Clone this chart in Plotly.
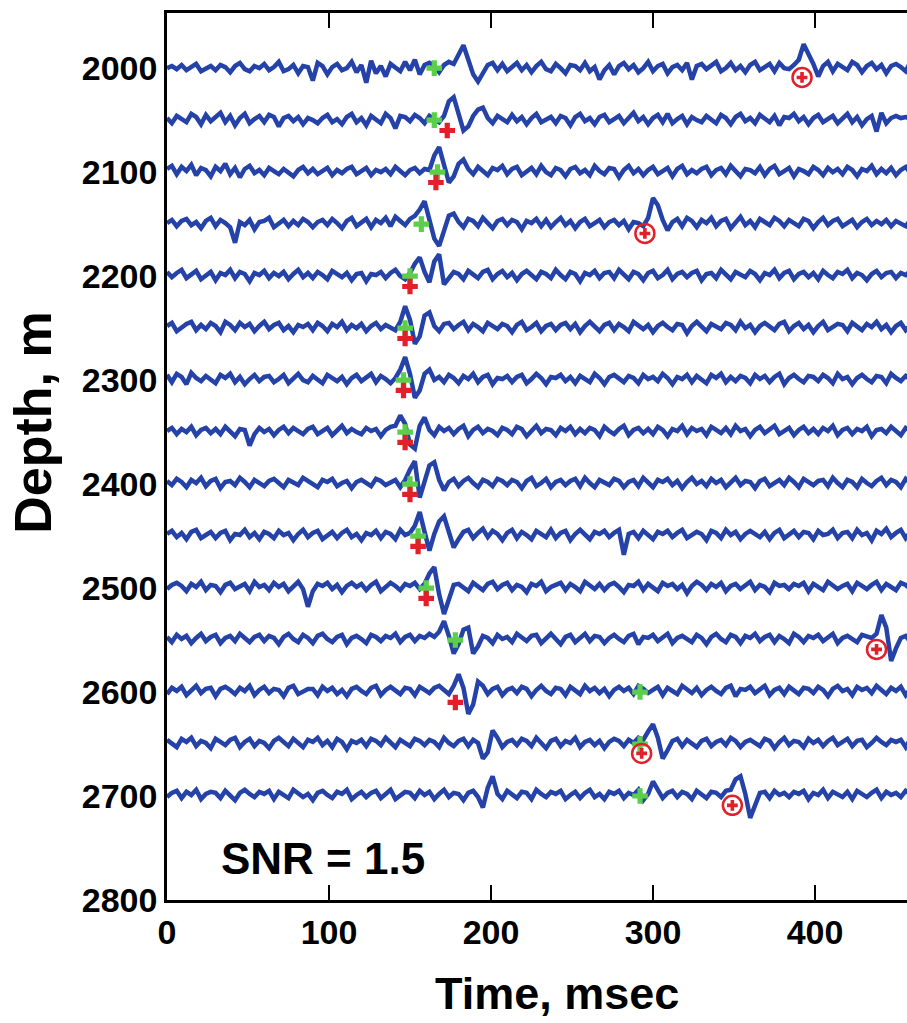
import plotly.graph_objects as go

# ---------------- data ----------------
SAMPLE_MS = 3  # sampling interval of the traces (ms)
depths = [2000, 2050, 2100, 2150, 2200, 2250, 2300, 2350, 2400, 2450, 2500, 2550, 2600, 2650, 2700]

# trace amplitudes (m, positive = up), one sample every SAMPLE_MS ms
trace_2000 = [0, 2, -1, 3, -2, 1, 4, -3, 0, 2,
              -2, 3, 1, -4, 2, 5, -1, -3, 2, 0,
              4, -2, 1, 6, -3, -1, 3, -5, 2, 1,
              -12, 5, 2, -6, 1, 4, -2, 0, 6, -4,
              3, -14, 7, -5, 2, -8, 4, 1, -3, 6,
              -2, 8, -6, 3, 5, 2, -4, 3, 6, 4,
              12, 22, 8, -6, -13, -4, 3, 5, -2, 4,
              -3, 1, 5, -2, 3, -4, 2, 6, -1, -3,
              4, 0, -5, 3, 2, -2, 5, -3, 1, -11,
              -2, 3, -6, 2, 5, -1, 3, -4, 0, 6,
              -3, 2, 4, -5, 1, 3, -2, 5, -11, 2,
              4, -1, 3, 6, -3, 0, 5, -2, 2, -4,
              3, 6, -2, 1, 4, -3, 5, 0, -1, 3,
              8, 23, 14, 4, -8, 2, 6, -3, 4, 1,
              -2, 6, 3, -4, 2, 5, -1, 3, -5, 2,
              4, 1, -3, 6, -2, 3, 0, -4, 5, 2]
trace_2050 = [2, -3, 4, 1, -2, 6, 3, -4, 5, -1,
              3, 7, -2, 4, -5, 2, 6, -3, 1, 4,
              -2, 5, 3, -6, 2, 4, -1, 3, -4, 2,
              0, -3, 2, 5, -2, 1, -4, 3, 6, -2,
              2, -5, 4, 1, -3, 6, 2, -8, 4, 3,
              -1, 5, 2, -3, 4, 1, -2, 4, 18, 22,
              6, -10, -6, 4, 10, 12, 2, -3, 4, 1,
              -2, 5, -1, 3, -4, 2, 6, -2, 1, 3,
              -3, 4, 2, -5, 3, 6, -1, 2, -4, 3,
              5, -2, 1, 4, -3, 2, 7, -1, 3, -4,
              2, 5, -2, 6, -3, 1, 4, -4, 3, 0,
              -2, 4, 1, -3, 5, 2, -4, 3, 6, -1,
              2, -3, 5, 1, -2, 4, -5, 3, 2, 6,
              -1, 3, -4, 2, 5, -2, 1, 4, -3, 2,
              6, -2, 3, -5, 1, 4, -11, 7, -3, 2,
              4, 2, 3, 1, 5, -2, 3, -1, 4, 2]
trace_2100 = [3, 6, -2, 5, 1, 7, -3, 4, 2, -4,
              5, 1, 8, -2, 4, -5, 3, 6, -1, 2,
              -3, 4, 1, -2, 3, 0, -4, 2, 5, -1,
              3, -2, 1, 4, -3, 2, -1, 3, 5, -2,
              1, 4, -3, 2, 0, 3, -2, 5, 1, -3,
              2, 4, -1, 3, 2, 16, 24, 6, -10, -4,
              8, 12, 3, -2, 5, 1, -3, 4, 2, 6,
              -2, 3, 5, -3, 1, 4, -2, 6, 0, -3,
              4, 2, -4, 3, 5, -1, 2, -3, 6, 1,
              -2, 4, 3, -5, 2, 6, -1, 3, -3, 2,
              5, -2, 1, 4, -4, 3, 6, -2, 2, -1,
              3, 5, -3, 2, 4, -2, 6, 1, -4, 3,
              2, -1, 5, -3, 3, 6, -2, 1, 4, -4,
              3, 1, -2, 5, 2, -3, 4, 0, 3, -2,
              5, 2, -4, 3, 1, 6, -2, 3, -1, 4,
              -3, 2, 5, -1, 3, 0, -4, 2, 3, 1]
trace_2150 = [1, 4, -2, 3, 5, -1, 2, -4, 3, 6,
              -2, 4, 1, -3, -18, 2, -1, 4, -5, 2,
              3, 6, -3, 1, 4, -2, 3, -1, 5, 2,
              -3, 2, 4, -1, 5, 1, -4, 3, 6, -2,
              2, 5, -3, 4, 1, 6, -2, 7, 3, -1,
              5, 8, 14, 22, 4, -14, -21, -6, 8, 10,
              2, -3, 5, 3, -2, 6, 1, -4, 3, 5,
              -1, 4, 2, -5, 3, 1, 5, -2, 4, -3,
              2, 6, -1, 3, -4, 2, 5, -2, 1, 4,
              -3, 2, 4, -1, 3, -5, 2, 1, -2, 6,
              25, 18, 4, -6, 2, 5, -2, 6, 3, -3,
              4, 1, 6, -2, 3, 5, -4, 2, 7, -1,
              3, -3, 5, 2, -1, 6, 3, -2, 4, 1,
              -2, 5, 3, -4, 2, 6, -1, 3, 5, -2,
              1, 4, -3, 2, 5, -1, 3, 0, 4, -2,
              3, 1, -2, 4, 2, -3, 5, 1, -1, 3]
trace_2200 = [4, -1, 3, 6, -2, 2, 5, -3, 1, 4,
              -4, 3, 1, 6, -2, 4, 2, -5, 3, 1,
              5, -2, 3, 0, 4, -3, 2, 6, -1, 3,
              -2, 4, 1, -3, 5, 2, -1, 3, -4, 2,
              3, -5, 2, 1, 4, -2, 3, 6, 0, -3,
              3, 12, 18, 4, -6, 14, 21, -8, -2, 4,
              2, -3, 5, 1, -2, 4, 6, -3, 2, 5,
              -1, 3, -4, 2, 5, 1, -3, 4, 2, -2,
              6, 1, -3, 4, 2, -5, 3, 1, 5, -2,
              3, 4, -2, 6, 1, -3, 4, 2, -4, 3,
              5, -2, 1, 6, -3, 2, 4, -1, 3, 5,
              -4, 2, 3, -2, 6, 1, -3, 4, 2, -1,
              5, 2, -4, 3, 1, 6, -2, 3, 5, -3,
              2, 4, -1, 3, -3, 5, 1, -2, 4, 2,
              6, -2, 3, 1, -4, 2, 5, -1, 3, 4,
              -2, 3, 1, 5, -3, 2, 4, 0, -2, 3]
trace_2250 = [2, 5, -3, 1, 4, 6, -2, 3, -1, 5,
              2, -4, 6, 3, -2, 5, 1, 4, -3, 2,
              6, -1, 3, 5, -2, 2, -4, 3, 1, 4,
              -2, 5, 2, -3, 4, 1, 6, -2, 3, 0,
              4, -3, 2, 5, -1, 3, 1, -2, 6, 21,
              8, -15, -8, 12, 15, 2, -3, 4, 5, -1,
              3, 6, -2, 4, 1, -3, 5, 2, -1, 4,
              2, -4, 3, 6, -2, 1, 5, -3, 2, 4,
              -2, 3, 5, -1, 4, -4, 2, 6, 1, -3,
              3, 5, -2, 4, 1, -3, 6, 2, -1, 3,
              -4, 2, 5, 1, -2, 4, 3, -5, 2, 6,
              1, -3, 4, 2, -1, 5, 3, -2, 6, 0,
              3, -4, 2, 5, 1, -2, 4, 6, -3, 2,
              5, -1, 3, -4, 2, 6, -2, 1, 4, 3,
              -3, 5, 2, -2, 4, 1, 6, -1, 3, -4,
              2, 5, -2, 3, 1, -3, 4, 2, 5, -1]
trace_2300 = [5, -2, 6, 3, -4, 7, 2, -1, 4, 1,
              -3, 5, 2, 6, -2, 3, -4, 1, 5, -1,
              3, 4, -2, 1, 5, -3, 2, 6, 0, -2,
              4, 1, -3, 5, 2, -1, 3, -4, 2, 5,
              -1, 3, 6, -2, 4, 1, -3, 2, 10, 22,
              6, -17, -10, 6, 10, 0, 3, -2, 5, 2,
              -3, 4, 1, 6, -2, 3, 5, -4, 2, 1,
              4, -2, 3, 5, -3, 1, 6, 2, -4, 3,
              2, 5, -1, 3, -3, 4, 1, -2, 6, 2,
              -4, 3, 5, 1, -2, 4, 2, -3, 5, 1,
              3, -1, 6, 2, -4, 3, 1, 5, -2, 4,
              1, -3, 5, 2, 6, -2, 3, -1, 4, 2,
              -3, 5, 1, 4, -2, 3, 6, -4, 2, 5,
              1, -2, 4, 3, -1, 5, 2, -3, 6, 1,
              3, -4, 2, 5, 1, -2, 4, 3, -3, 6,
              2, -1, 4, 1, -3, 5, 2, 3, -2, 4]
trace_2350 = [1, 4, -2, 3, 0, 5, -3, 2, 4, -1,
              3, -2, 5, 1, -4, 3, 2, -13, -2, 4,
              0, 3, -3, 2, 5, -1, 4, 1, -2, 3,
              5, -2, 1, 4, -3, 2, 6, -1, 3, 0,
              -2, 4, 1, 3, -4, 2, 5, 6, 16, 8,
              -12, -16, 6, 14, 2, -3, 5, 1, 4, -2,
              3, 6, -4, 2, 5, -1, 3, 1, -3, 4,
              2, -2, 5, 3, -4, 1, 6, -1, 3, 2,
              -3, 4, 1, 5, -2, 3, -1, 4, 2, -4,
              5, 1, -2, 3, 6, -3, 2, 4, -1, 3,
              -2, 5, 2, -4, 3, 1, 6, -2, 4, 1,
              3, -3, 5, 2, -1, 4, -2, 6, 1, 3,
              -4, 2, 5, -1, 3, 6, -2, 1, 4, -3,
              2, 5, -1, 3, -2, 4, 1, 6, -3, 2,
              4, -2, 3, 1, 5, -4, 2, 3, -1, 5,
              1, -3, 4, 2, -1, 3, 5, -2, 2, 4]
trace_2400 = [3, -1, 5, 2, -3, 4, 1, 6, -2, 3,
              5, -4, 2, 3, -1, 6, 2, -3, 4, 1,
              -2, 3, 5, 1, -3, 4, 2, -1, 6, 3,
              0, -3, 4, 2, 5, -2, 1, 3, -4, 2,
              4, 1, -2, 5, 3, -1, 2, 4, -3, 4,
              14, 22, -13, 2, 18, 21, 4, -6, 2, 5,
              -2, 3, 6, 1, -3, 4, 2, -2, 5, 3,
              -1, 4, 2, -4, 3, 6, -2, 1, 5, -3,
              2, 4, -1, 3, 5, -2, 6, 1, -3, 4,
              2, -1, 5, 3, -3, 2, 4, -2, 6, 1,
              -3, 4, 2, 5, -1, 3, -4, 2, 6, 0,
              3, -2, 5, 1, 4, -3, 2, 6, -1, 3,
              2, -4, 3, 5, -2, 1, 4, -1, 6, 2,
              -3, 5, 2, -1, 3, 4, -2, 6, 1, -3,
              4, 2, -3, 5, 1, -2, 3, 6, -1, 4,
              2, -3, 5, 1, 3, -2, 4, 0, 2, -1]
trace_2450 = [2, 5, -1, 3, -3, 4, 6, -2, 1, 4,
              -2, 3, 5, -4, 2, 1, 6, -1, 3, -3,
              4, 2, -2, 5, 1, 3, -4, 2, 6, -1,
              3, 5, -3, 1, 4, -2, 3, 6, -1, 2,
              -4, 3, 1, 5, -2, 4, 2, -3, 6, 1,
              3, 10, 23, 4, -14, 2, 14, 19, 2, -11,
              -3, 4, 6, -2, 3, 7, -1, 5, 2, -4,
              3, 6, -2, 4, 1, -3, 5, 2, -1, 6,
              -2, 3, 5, -4, 2, 6, 1, -3, 4, 2,
              5, -1, 3, 6, -18, 2, 4, -2, 5, 1,
              -3, 4, 2, 5, -1, 3, 6, -2, 1, 4,
              2, -4, 5, 3, -2, 6, 1, 4, -3, 2,
              5, 2, -1, 4, -3, 3, 6, -2, 2, 5,
              -1, 4, 3, -3, 5, 1, 2, 6, -2, 3,
              4, -2, 6, 1, 3, -4, 5, 2, 7, -1,
              3, 6, -2, 4, 1, 5, -3, 2, 4, 1]
trace_2500 = [-1, 3, 5, 2, -3, 4, 1, 6, -2, 3,
              2, -4, 3, 5, -1, 2, 4, -3, 6, 1,
              3, -2, 5, 1, 4, -3, 2, 6, -1, -18,
              -3, 4, 2, 5, -1, 3, -4, 2, 5, 1,
              4, -2, 3, 6, -3, 1, 5, 2, -2, 4,
              2, 5, -1, 4, 14, 20, -6, -25, -10, 3,
              4, 1, -3, 5, 2, -2, 4, 6, -1, 3,
              5, -2, 3, 1, -4, 4, 2, 6, -3, 1,
              3, 5, -2, 4, 1, -3, 6, 2, -1, 4,
              -2, 3, 5, 1, -4, 3, 2, 6, -2, 4,
              1, -3, 5, 2, 4, -1, 3, -5, 2, 6,
              3, -2, 4, 1, 5, -3, 2, 4, -1, 3,
              6, -2, 3, 1, -4, 5, 2, 3, -1, 4,
              2, 5, -3, 4, 1, -2, 6, 3, -1, 2,
              4, -3, 5, 2, -1, 3, 6, -2, 4, 1,
              -2, 5, 3, -1, 4, 2, -3, 5, 1, 3]
trace_2550 = [3, -2, 5, 1, 4, -3, 2, 6, -1, 3,
              5, -3, 2, 4, -1, 6, 2, -2, 3, 5,
              -1, 4, 2, -4, 3, 6, 1, -2, 5, 2,
              -3, 4, 6, 1, -2, 3, 5, -4, 2, 4,
              1, -3, 5, 3, -1, 4, 2, 6, -2, 3,
              5, -1, 4, 2, 6, 3, 8, 18, 4, -13,
              -4, 10, 12, -13, -6, 4, 2, -3, 5, 1,
              3, -2, 6, 2, -1, 4, 5, -3, 2, 6,
              1, -4, 3, 5, -2, 2, 6, -1, 4, 3,
              -3, 2, 5, 1, -2, 4, 6, -4, 3, 2,
              5, -1, 3, 6, -3, 2, 4, 1, -2, 5,
              2, -4, 3, 6, 1, -2, 5, 3, -3, 4,
              2, 6, -1, 3, 5, -2, 4, 1, -3, 6,
              3, -2, 4, 2, 5, -1, 3, 6, -3, 2,
              4, 1, -2, 5, 3, 2, 6, 24, 12, -20,
              -8, 2, 4, -2, 3, 5, -1, 3, 2, 4]
trace_2600 = [-2, 4, 1, 5, -3, 2, 6, -1, 3, 4,
              -4, 3, 5, 2, -2, 4, 1, 6, -3, 2,
              5, -1, 3, 2, -4, 4, 6, -2, 1, 3,
              3, -3, 5, 1, 4, -2, 2, -4, 3, 5,
              1, -2, 4, 6, -3, 2, 5, 1, -2, 4,
              3, -3, 5, 2, -1, 4, 6, 2, -2, 6,
              17, 4, -21, -12, 10, 6, -2, 3, 5, -3,
              2, 4, -1, 5, 3, -4, 2, 6, 1, -2,
              4, 3, -3, 5, 2, -2, 6, 1, 4, -1,
              3, -4, 2, 5, 1, 4, -2, 6, 3, -1,
              2, 5, -3, 4, 1, -2, 6, 3, -1, 4,
              -3, 2, 5, 1, -2, 4, 6, -4, 3, 2,
              5, -1, 3, 6, -3, 2, 4, -2, 5, 1,
              -2, 4, 3, -1, 5, 2, -4, 3, 6, 1,
              3, -3, 5, 2, 4, -1, 6, 2, -2, 4,
              1, 5, -3, 3, 2, -2, 4, 1, 5, -1]
trace_2650 = [4, 1, -3, 5, 2, 6, -2, 3, 1, -4,
              5, 2, -1, 4, 6, -3, 2, 5, -2, 3,
              1, -4, 3, 6, 2, -2, 5, 1, -3, 4,
              2, 6, -1, 3, -3, 5, 2, -5, 3, 1,
              4, -2, 5, 3, -1, 6, 2, -3, 4, 1,
              -2, 5, 3, -1, 4, 2, -3, 6, 1, -2,
              3, 5, -2, 4, 1, -14, -8, 13, 6, -3,
              2, 4, -1, 5, 3, -2, 6, 1, -4, 3,
              5, -2, 3, 1, 6, -3, 2, 4, -1, 3,
              -4, 2, 5, 3, -2, 4, 1, 6, 4, 12,
              19, 6, -14, -6, 3, 5, -2, 4, 1, -3,
              3, 5, -2, 2, 4, -1, 6, 3, -3, 2,
              4, 1, -2, 5, 3, -4, 2, 6, -1, 3,
              2, -3, 5, 1, 4, -2, 3, 6, -1, 2,
              5, -2, 3, 4, -3, 1, 6, 2, -1, 4,
              2, 4, -3, 5, 1, 3, -2, 4, 6, -1]
trace_2700 = [-1, 3, 5, -2, 4, 1, 6, -3, 2, 4,
              3, -2, 5, 1, -4, 3, 6, 2, -1, 4,
              2, 5, -3, 4, 1, -2, 6, 3, -1, 2,
              -4, 3, 5, 1, -2, 4, 2, 6, -3, 1,
              4, -1, 3, 5, -2, 2, 6, -3, 1, 4,
              3, -2, 5, 1, 4, -3, 2, 6, -1, 3,
              2, -4, 3, 5, -1, -11, 8, 19, 2, -3,
              5, 1, -2, 4, 3, -3, 6, 2, -1, 4,
              2, 5, -3, 1, 4, -2, 3, 6, -1, 2,
              -3, 4, 2, 5, -2, 3, 1, 6, -4, 2,
              14, 6, -2, 3, 5, -1, 4, 2, -3, 5,
              1, -2, 4, 3, -1, 5, 6, 16, 19, 2,
              -21, -8, 3, 4, -2, 5, 1, 3, -1, 4,
              2, 5, -3, 3, 1, 6, -2, 4, 2, -1,
              4, -3, 5, 2, -1, 3, 6, -2, 4, 1,
              3, -1, 5, 2, -2, 4, 1, 3, -3, 5]

traces = [trace_2000, trace_2050, trace_2100, trace_2150, trace_2200, trace_2250,
          trace_2300, trace_2350, trace_2400, trace_2450, trace_2500, trace_2550,
          trace_2600, trace_2650, trace_2700]

# picks (time ms, trace depth m)
green_t = [165, 165, 167, 157, 150, 147, 146, 147, 150, 155, 160, 178, 292, 292, 292]
green_d = [2000, 2050, 2100, 2150, 2200, 2250, 2300, 2350, 2400, 2450, 2500, 2550, 2600, 2650, 2700]
red_t = [173, 166, 150, 147, 146, 147, 150, 155, 160, 178]
red_d = [2050, 2100, 2200, 2250, 2300, 2350, 2400, 2450, 2500, 2600]
outlier_t = [392, 295, 438, 293, 349]
outlier_d = [2000, 2150, 2550, 2650, 2700]

x_ticks = [0, 100, 200, 300, 400]
y_ticks = [2000, 2100, 2200, 2300, 2400, 2500, 2600, 2700, 2800]

# ---------------- styling ----------------
LINE_BLUE = "#2442a8"
GREEN = "#5ccf4a"
RED = "#e3202a"
FONT = "Liberation Sans, Arial, sans-serif"
RED_OFFSET = 10     # red picks drawn slightly below trace (m)
CIRCLE_OFFSET = 9

fig = go.Figure()
for d, vals in zip(depths, traces):
    t = [SAMPLE_MS * i for i in range(len(vals))]
    y = [d - a for a in vals]
    fig.add_trace(go.Scatter(x=t, y=y, mode="lines",
                             line=dict(color=LINE_BLUE, width=4.5),
                             showlegend=False, hoverinfo="skip"))

fig.add_trace(go.Scatter(x=green_t, y=green_d, mode="markers",
                         marker=dict(symbol="cross", size=13, color=GREEN,
                                     line=dict(width=0)),
                         showlegend=False))
fig.add_trace(go.Scatter(x=red_t, y=[d + RED_OFFSET for d in red_d], mode="markers",
                         marker=dict(symbol="cross", size=13, color=RED,
                                     line=dict(width=0)),
                         showlegend=False))
fig.add_trace(go.Scatter(x=outlier_t, y=[d + CIRCLE_OFFSET for d in outlier_d], mode="markers",
                         marker=dict(symbol="circle-open", size=19, color=RED,
                                     line=dict(width=2.5, color=RED)),
                         showlegend=False))
fig.add_trace(go.Scatter(x=outlier_t, y=[d + CIRCLE_OFFSET for d in outlier_d], mode="markers",
                         marker=dict(symbol="cross", size=9, color=RED,
                                     line=dict(width=0)),
                         showlegend=False))

fig.add_annotation(x=96, y=2760, xref="x", yref="y", text="SNR = 1.5",
                   showarrow=False, font=dict(family=FONT, size=44, color="black", weight="bold"))
fig.add_annotation(x=(557 - 167) / 740, y=-0.105, xref="paper", yref="paper",
                   text="Time, msec", showarrow=False, xanchor="center", yanchor="middle",
                   font=dict(family=FONT, size=45, color="black", weight="bold"))
fig.add_annotation(x=(33 - 167) / 740, y=0.538, xref="paper", yref="paper",
                   text="Depth, m", showarrow=False, textangle=-90,
                   xanchor="center", yanchor="middle",
                   font=dict(family=FONT, size=52, color="black", weight="bold"))

fig.update_xaxes(range=[0, 456.8], tickvals=x_ticks, ticktext=[str(v) for v in x_ticks],
                 showline=True, linecolor="black", linewidth=2.5, mirror="ticks",
                 ticks="inside", ticklen=15, tickwidth=2, tickcolor="black",
                 showgrid=False, zeroline=False,
                 tickfont=dict(family=FONT, size=34, color="black", weight="bold"))
fig.update_yaxes(range=[2800, 1947], tickvals=y_ticks, ticktext=[str(v) for v in y_ticks],
                 showline=True, linecolor="black", linewidth=2.5, mirror=False,
                 ticks="", ticklabelstandoff=0,
                 showgrid=False, zeroline=False,
                 tickfont=dict(family=FONT, size=34, color="black", weight="bold"))

fig.update_layout(width=907, height=1023, plot_bgcolor="white", paper_bgcolor="white",
                  margin=dict(l=167, r=0, t=13, b=123), showlegend=False)

fig.write_html("out.html")
